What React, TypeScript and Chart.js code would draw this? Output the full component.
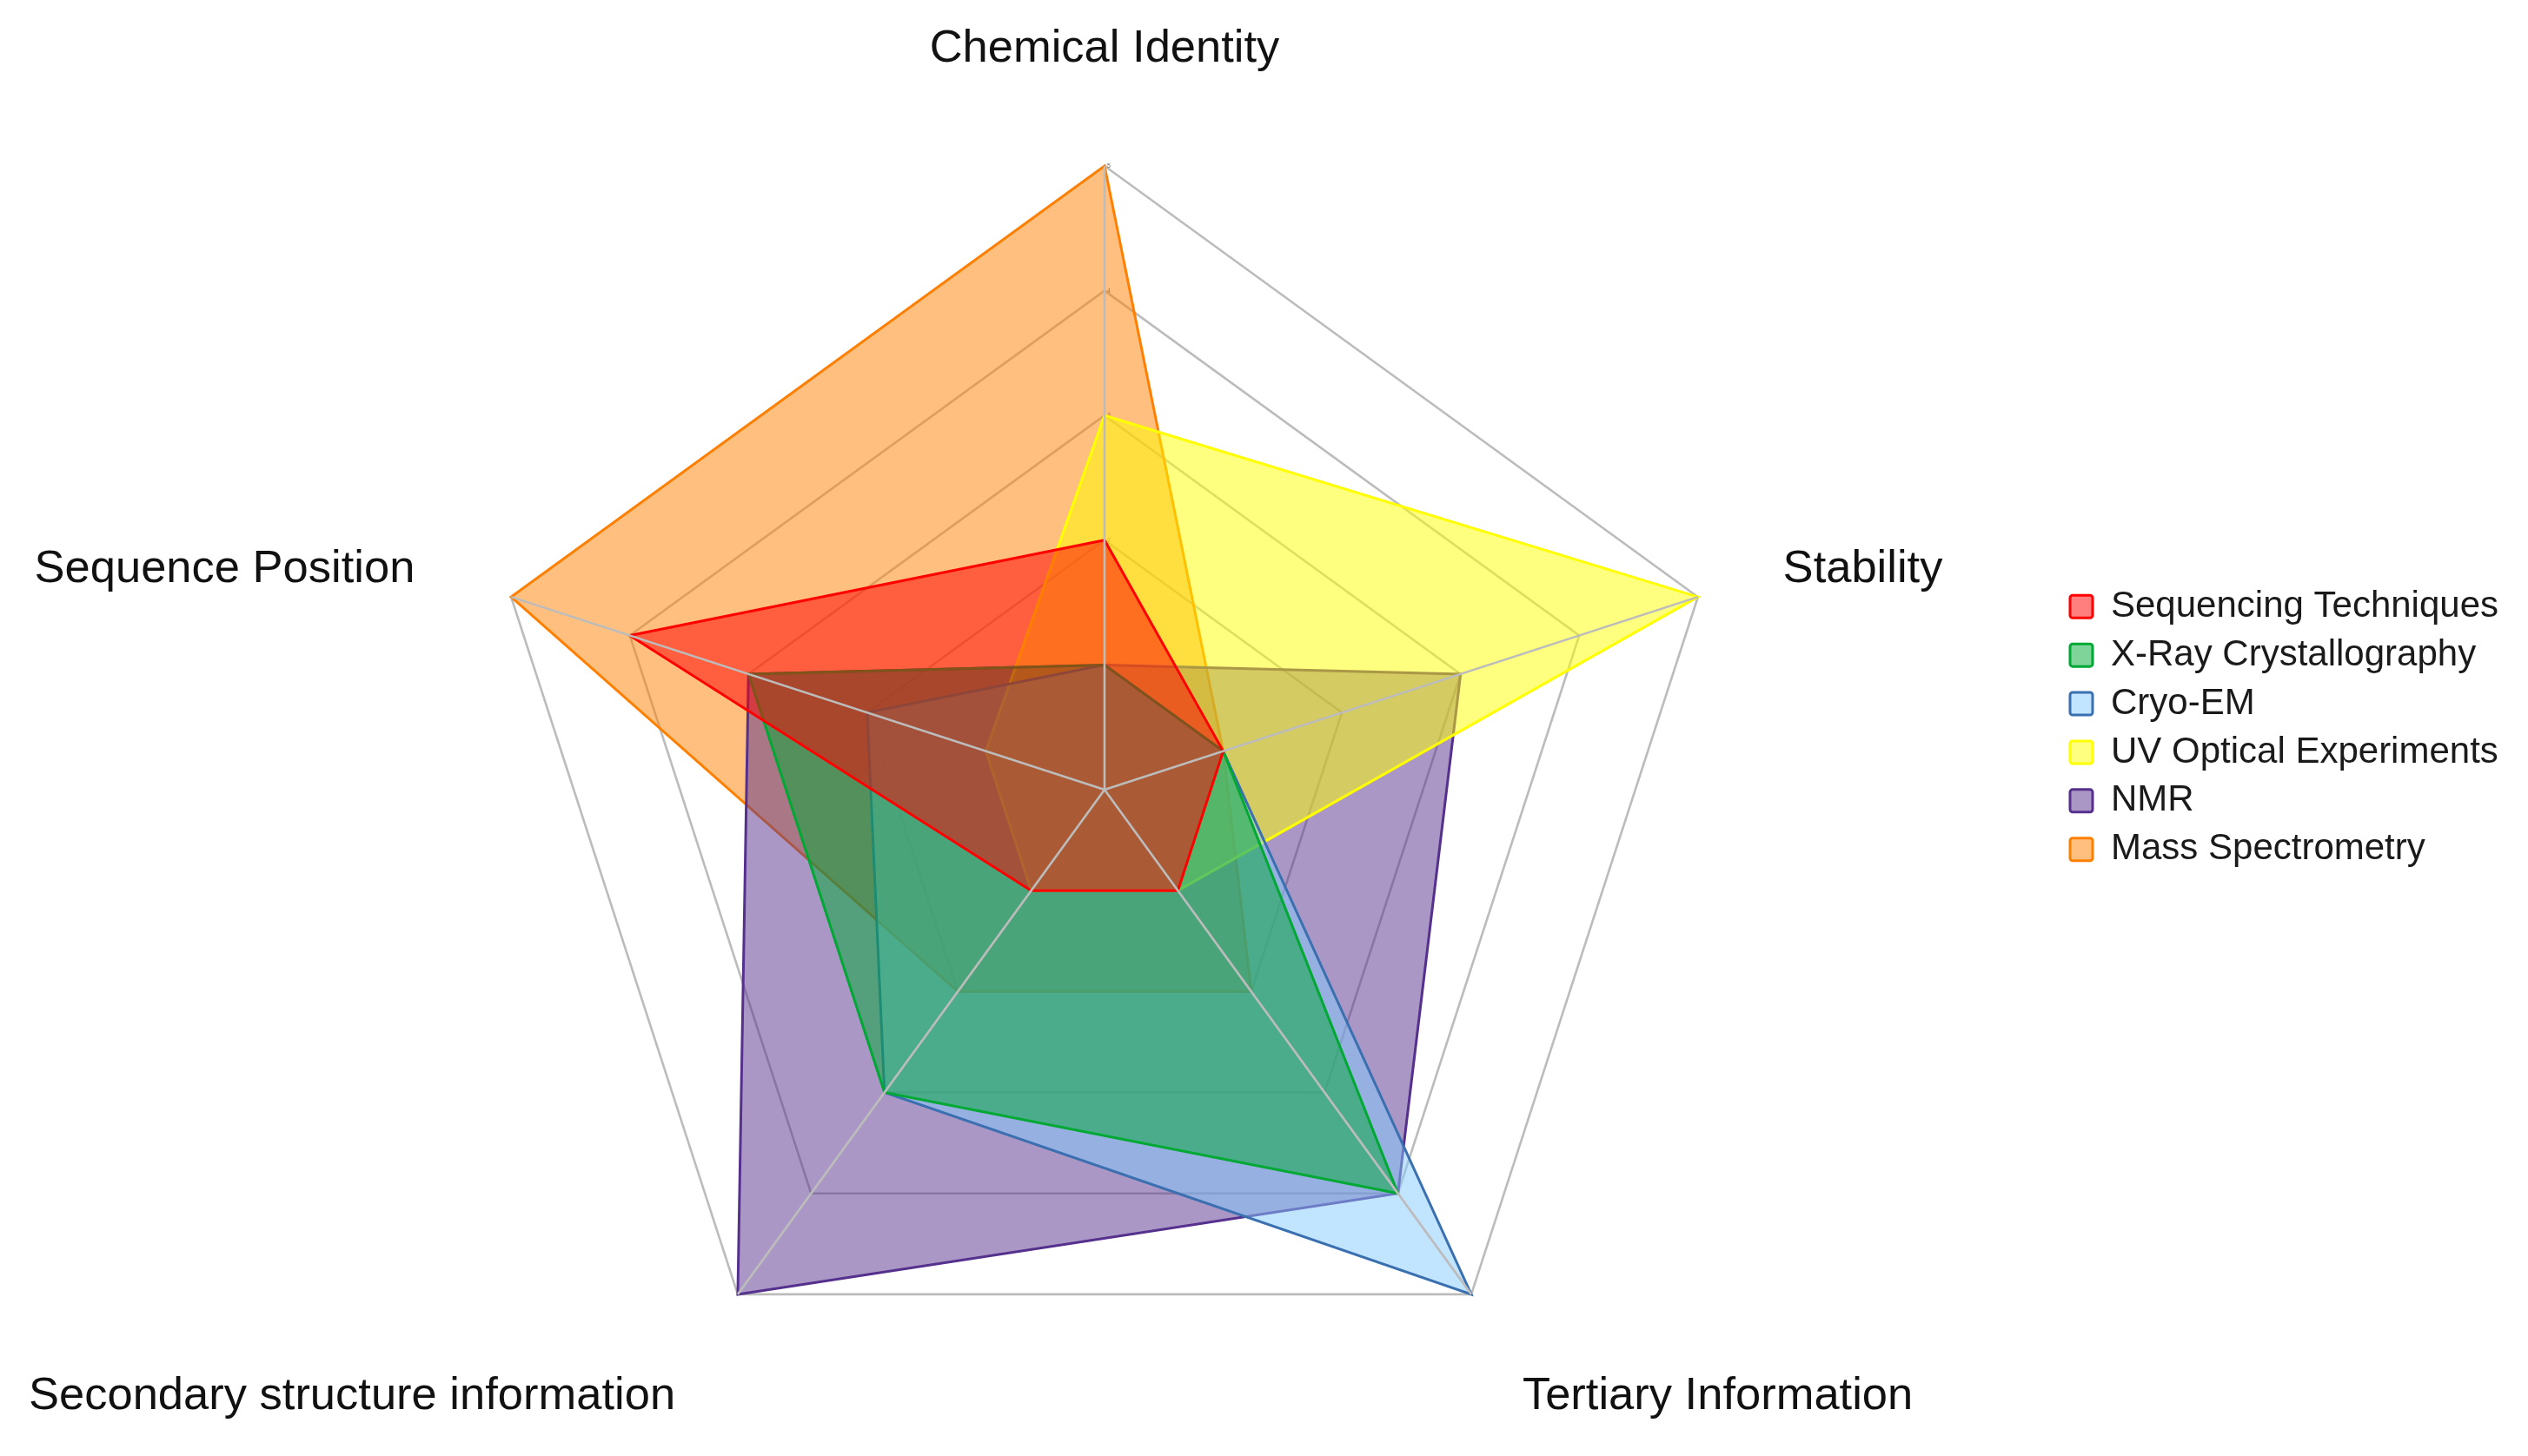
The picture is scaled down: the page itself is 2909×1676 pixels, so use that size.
import React, { useEffect, useRef } from 'react';
import { Chart, registerables } from 'chart.js';

Chart.register(...registerables);

// ---- data ----
const categories = [
  'Chemical Identity',
  'Stability',
  'Tertiary Information',
  'Secondary structure information',
  'Sequence Position',
];
const seriesNames = [
  'Sequencing Techniques',
  'X-Ray Crystallography',
  'Cryo-EM',
  'UV Optical Experiments',
  'NMR',
  'Mass Spectrometry',
];
const sequencingValues = [2, 1, 1, 1, 4];
const xrayValues = [1, 1, 4, 3, 3];
const cryoEmValues = [1, 1, 5, 3, 2];
const uvOpticalValues = [3, 5, 1, 1, 1];
const nmrValues = [1, 3, 4, 5, 3];
const massSpecValues = [5, 1, 2, 2, 5];
const scaleMin = 0;
const scaleMax = 5;
const scaleStep = 1;

// ---- styles ----
const borderColors = ['#ff0000', '#00a933', '#3a6fb0', '#ffff00', '#55308d', '#ff8000'];
const fillColors = [
  'rgba(255,0,0,0.5)',
  'rgba(0,169,51,0.5)',
  'rgba(131,202,255,0.5)',
  'rgba(255,255,0,0.5)',
  'rgba(85,48,141,0.5)',
  'rgba(255,128,0,0.5)',
];
const GRID = '#bcbcbc';
const FONT = '"Liberation Sans", Arial, sans-serif';

const overlayPlugin = {
  id: 'overlayPlugin',
  afterDatasetsDraw(chart: any) {
    const scale = chart.scales.r;
    const ctx = chart.ctx;
    const outer = scale.getDistanceFromCenterForValue(scale.max);
    ctx.save();
    ctx.strokeStyle = GRID;
    ctx.lineWidth = 2.6;
    for (let i = 0; i < categories.length; i++) {
      const p = scale.getPointPosition(i, outer);
      ctx.beginPath();
      ctx.moveTo(scale.xCenter, scale.yCenter);
      ctx.lineTo(p.x, p.y);
      ctx.stroke();
    }
    ctx.restore();
  },
  afterDraw(chart: any) {
    const scale = chart.scales.r;
    const ctx = chart.ctx;
    ctx.save();
    ctx.font = '52.5px ' + FONT;
    ctx.fillStyle = '#111111';
    ctx.textBaseline = 'alphabetic';
    for (let i = 0; i < categories.length; i++) {
      const deg = Math.round((scale.getIndexAngle(i) * 180) / Math.PI) % 360;
      const p = scale.getPointPosition(i, scale.drawingArea + 107);
      let align: CanvasTextAlign = 'center';
      let dx = 0;
      if (deg !== 0 && deg !== 180) {
        align = deg < 180 ? 'left' : 'right';
        dx = deg < 180 ? -4 : -9;
      }
      let y = p.y;
      if (deg === 0) y = p.y - 13;
      else if (deg < 90 || deg > 270) y = p.y + 16;
      else y = p.y + 46;
      ctx.textAlign = align;
      ctx.fillText(categories[i], p.x + dx, y);
    }
    ctx.restore();
  },
};

export default function App() {
  const ref = useRef<HTMLCanvasElement | null>(null);
  useEffect(() => {
    document.body.style.margin = '0';
    document.body.style.overflow = 'hidden';
    if (!ref.current) return;
    const seriesValues = [sequencingValues, xrayValues, cryoEmValues, uvOpticalValues, nmrValues, massSpecValues];
    const chart = new Chart(ref.current, {
      type: 'radar',
      data: {
        labels: categories,
        datasets: seriesNames.map((name, i) => ({
          label: name,
          data: seriesValues[i],
          borderColor: borderColors[i],
          backgroundColor: fillColors[i],
          borderWidth: 3,
          fill: true,
          pointRadius: 0,
          pointHoverRadius: 0,
          tension: 0,
        })),
      },
      options: {
        animation: false,
        responsive: false,
        devicePixelRatio: 1,
        layout: { padding: { left: 174, right: 24, top: 0, bottom: 0 } },
        scales: {
          r: {
            min: scaleMin,
            max: scaleMax,
            ticks: {
              stepSize: scaleStep,
              showLabelBackdrop: false,
              backdropPadding: 0,
              color: '#666666',
              font: { size: 7, family: FONT },
              callback: (v: any) => '     ' + v,
            },
            grid: { color: GRID, lineWidth: 2.6 },
            angleLines: { display: false },
            pointLabels: { display: false },
          },
        },
        plugins: {
          legend: {
            position: 'right',
            align: 'center',
            labels: {
              boxWidth: 26,
              boxHeight: 26,
              padding: 13.9,
              color: '#1a1a1a',
              textAlign: 'left',
              useBorderRadius: true,
              borderRadius: 3,
              font: { size: 42, family: FONT },
            },
          },
          title: {
            display: true,
            text: '',
            font: { size: 10, lineHeight: 1 },
            padding: { top: 177.5, bottom: 0 },
          },
          subtitle: {
            display: true,
            text: '',
            position: 'bottom',
            font: { size: 10, lineHeight: 1 },
            padding: { top: 35.5, bottom: 0 },
          },
          tooltip: { enabled: false },
        },
      },
      plugins: [overlayPlugin],
    } as any);
    return () => chart.destroy();
  }, []);
  return <canvas ref={ref} width={2909} height={1676} style={{ display: 'block' }} />;
}
